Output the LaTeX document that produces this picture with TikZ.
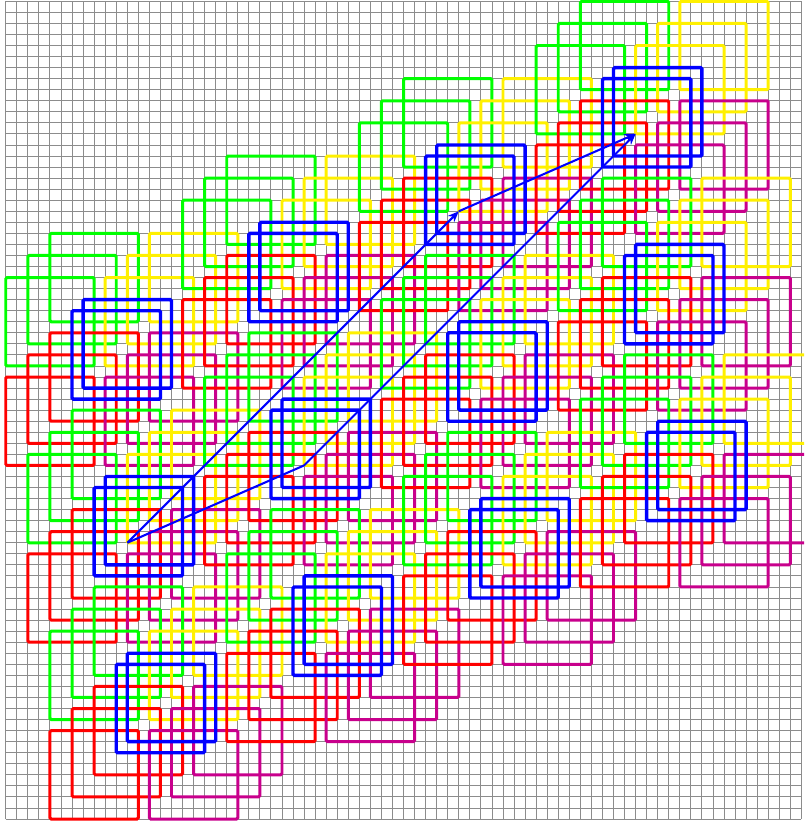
\documentclass[tikz,border=0pt]{standalone}
\usetikzlibrary{arrows.meta}
\definecolor{gridgray}{RGB}{140,140,140}
\definecolor{sqgreen}{RGB}{0,255,0}
\definecolor{sqyellow}{RGB}{255,240,0}
\definecolor{sqred}{RGB}{255,0,0}
\definecolor{sqmag}{RGB}{200,0,140}
\definecolor{sqblue}{RGB}{0,0,255}
\begin{document}
\begin{tikzpicture}[x=0.3cm,y=0.3cm,
  sq/.style={line width=2.3pt, rounded corners=1pt},
  bsq/.style={sqblue, line width=2.6pt, rounded corners=1pt},
  arr/.style={sqblue, line width=1.6pt, -{Stealth[length=3mm,width=2.4mm]}}]
\useasboundingbox (-0.52,-0.45) rectangle (72.24,74.12);
\clip (-0.52,-0.45) rectangle (72.24,74.12);
\draw[gridgray, line width=0.7pt, step=0.3cm] (0,0) grid (72,74);
\foreach \j in {0,1,2}{
 \foreach \i in {0,...,3}{
  \pgfmathsetmacro{\px}{6+16*\i+2*\j}
  \pgfmathsetmacro{\py}{38+7*\i-16*\j}
  \begin{scope}[shift={(\px,\py)}]
   \foreach \d in {0,2,4}{
     \draw[sq,sqgreen] (-2-\d,7-\d) rectangle +(8,8);
   }
   \foreach \d in {0,2,4}{
     \draw[sq,sqyellow] (7-\d,7-\d) rectangle +(8,8);
   }
   \foreach \d in {0,2,4}{
     \draw[sq,sqred] (-2-\d,-2-\d) rectangle +(8,8);
   }
   \foreach \d in {0,2,4}{
     \draw[sq,sqmag] (7-\d,-2-\d) rectangle +(8,8);
   }
   \draw[bsq] (0,0) rectangle +(8,8);
   \draw[bsq] (1,1) rectangle +(8,8);
  \end{scope}
 }
}
\coordinate (A) at (11,25);
\coordinate (B) at (27,32);
\coordinate (C) at (41,55);
\coordinate (D) at (57,62);
\draw[arr] (A) -- (B) -- (D);
\draw[arr] (A) -- (C);
\draw[arr] (C) -- (D);
\end{tikzpicture}
\end{document}
